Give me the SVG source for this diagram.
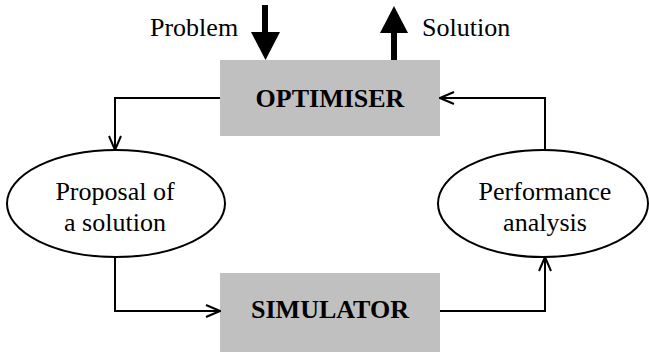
<svg xmlns="http://www.w3.org/2000/svg" width="649" height="352" viewBox="0 0 649 352">
  <style>
    .box { fill: #c0c0c0; stroke: none; }
    .oval { fill: #ffffff; stroke: #000; stroke-width: 2; }
    .label { font-family: "Liberation Serif", "Times New Roman", serif; font-size: 26px; fill: #000; }
    .bold { font-weight: bold; font-size: 26px; }
    .link { fill: none; stroke: #000; stroke-width: 2; }
  </style>
  <defs>
    <marker id="open" viewBox="0 0 16 14" refX="15" refY="7" markerWidth="16" markerHeight="14" markerUnits="userSpaceOnUse" orient="auto">
      <path d="M1,1 L15,7 L1,13" fill="none" stroke="#000" stroke-width="2"/>
    </marker>
  </defs>

  <!-- external input / output arrows -->
  <g id="io">
    <text class="label" x="150" y="36">Problem</text>
    <rect x="262" y="5" width="6" height="28" fill="#000"/>
    <polygon points="251,32 280,32 265.5,60" fill="#000"/>
    <text class="label" x="422" y="36">Solution</text>
    <rect x="391" y="30" width="6" height="30" fill="#000"/>
    <polygon points="380,33 408,33 394,6" fill="#000"/>
  </g>

  <g id="optimiser">
    <rect class="box" x="220" y="60" width="220" height="76"/>
    <text class="label bold" x="330" y="107" text-anchor="middle">OPTIMISER</text>
  </g>

  <g id="simulator">
    <rect class="box" x="220" y="273" width="220" height="79"/>
    <text class="label bold" x="330" y="318" text-anchor="middle">SIMULATOR</text>
  </g>

  <g id="proposal">
    <ellipse class="oval" cx="116" cy="203.5" rx="109" ry="53.5"/>
    <text class="label" x="115" y="200" text-anchor="middle">Proposal of</text>
    <text class="label" x="115" y="231" text-anchor="middle">a solution</text>
  </g>

  <g id="performance">
    <ellipse class="oval" cx="543" cy="203.5" rx="105" ry="53.5"/>
    <text class="label" x="545" y="200" text-anchor="middle">Performance</text>
    <text class="label" x="545" y="231" text-anchor="middle">analysis</text>
  </g>

  <g id="connectors">
    <path class="link" d="M220,98 H115 V150" marker-end="url(#open)"/>
    <path class="link" d="M115,257 V311 H220" marker-end="url(#open)"/>
    <path class="link" d="M440,311 H545 V257" marker-end="url(#open)"/>
    <path class="link" d="M545,150 V98 H440" marker-end="url(#open)"/>
  </g>
</svg>
